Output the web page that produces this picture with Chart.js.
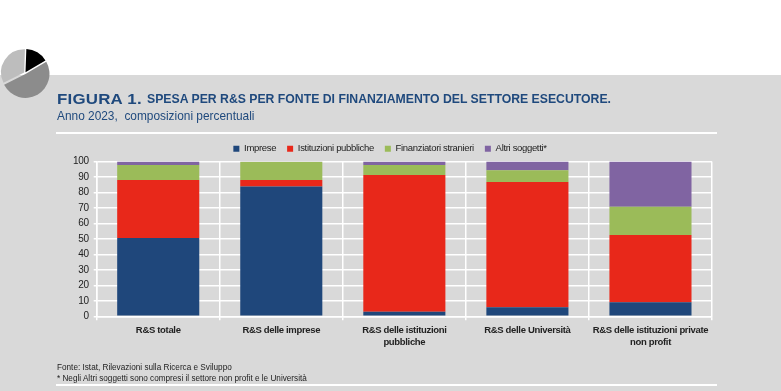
<!DOCTYPE html>
<html lang="it"><head><meta charset="utf-8">
<script src="https://cdn.jsdelivr.net/npm/chart.js@4"></script>
<style>
html,body{margin:0;padding:0;background:#fff}
#page{position:relative;width:781px;height:391px;overflow:hidden;font-family:"Liberation Sans",Arial,sans-serif}
#band{position:absolute;left:0;top:75px;width:781px;height:316px;background:#d9d9d9}
#c{position:absolute;left:0;top:0}
.t{position:absolute;white-space:nowrap;transform-origin:0 0}
.rule{position:absolute;left:56px;width:661px;height:2px;background:#fff}
</style></head><body>
<div id="page">
<div id="band"></div>
<div style="position:absolute;left:-8px;top:40px;width:66px;height:66px"><canvas id="pie" width="66" height="66"></canvas></div>
<div class="t" style="left:57px;top:90px;font-size:15px;font-weight:bold;color:#1f497d;transform:scaleX(1.125);letter-spacing:.2px">FIGURA 1.</div>
<div class="t" style="left:147px;top:91px;font-size:13.5px;font-weight:bold;color:#1f497d;transform:scaleX(.907)">SPESA PER R&amp;S PER FONTE DI FINANZIAMENTO DEL SETTORE ESECUTORE.</div>
<div class="t" style="left:57px;top:108px;font-size:13.5px;color:#1f497d;transform:scaleX(.88)">Anno 2023,&nbsp; composizioni percentuali</div>
<div class="rule" style="top:132px"></div>
<canvas id="c" width="781" height="391"></canvas>
<div class="t" style="left:57px;top:361px;font-size:9.5px;color:#222;transform:scaleX(.862)">Fonte: Istat, Rilevazioni sulla Ricerca e Sviluppo</div>
<div class="t" style="left:57px;top:372px;font-size:9.5px;color:#222;transform:scaleX(.86)">* Negli Altri soggetti sono compresi il settore non profit e le Università</div>
<div class="rule" style="top:384px"></div>
</div>
<script>
const categories = [["R&S totale"],["R&S delle imprese"],["R&S delle istituzioni","pubbliche"],["R&S delle Università"],["R&S delle istituzioni private","non profit"]];
const imprese = [50.6, 83.8, 3.0, 5.8, 9.1];
const istituzioni = [37.5, 4.3, 88.3, 81.0, 43.5];
const stranieri = [9.7, 11.7, 6.5, 7.6, 18.2];
const altri = [2.2, 0.2, 2.2, 5.6, 29.2];
const seriesNames = ["Imprese","Istituzioni pubbliche","Finanziatori stranieri","Altri soggetti*"];
const seriesColors = ["#1f477b","#e8281a","#9bbb59","#8064a2"];
const pieValues = [16, 51, 33];
const pieColors = ["#000000","#8c8c8c","#bdbdbd"];

Chart.defaults.font.family = '"Liberation Sans", Arial, sans-serif';
Chart.defaults.animation = false;

const tightText = {
  id:'tightText',
  beforeUpdate(chart){ chart.ctx.letterSpacing='-0.33px'; },
  beforeDraw(chart){ chart.ctx.letterSpacing='-0.33px'; },
  afterInit(chart){
    const lg = chart.legend; if(!lg) return;
    const fit = lg.fit.bind(lg);
    lg.fit = function(){ fit(); lg.height -= 2; };
  }
};

new Chart(document.getElementById('c'), {
  type:'bar',
  data:{labels:categories,datasets:[imprese,istituzioni,stranieri,altri].map((d,i)=>({
    label:seriesNames[i],data:d,backgroundColor:seriesColors[i],borderWidth:0,
    categoryPercentage:1,barPercentage:0.667}))},
  plugins:[tightText],
  options:{
    responsive:false,
    layout:{padding:{left:68,right:69,top:133,bottom:38}},
    plugins:{
      legend:{display:true,position:'top',align:'center',
        labels:{boxWidth:6,boxHeight:6,padding:11,color:'#222',font:{size:9.5}}},
      tooltip:{enabled:false},title:{display:false}
    },
    scales:{
      x:{stacked:true,
        grid:{color:'#fff',lineWidth:1.5,tickLength:4,drawOnChartArea:true},
        border:{color:'#fff',width:1.5},
        ticks:{color:'#222',font:{size:9.5,weight:'bold',lineHeight:1.3},maxRotation:0,autoSkip:false,padding:4}},
      y:{stacked:true,min:0,max:100,
        grid:{color:'#fff',lineWidth:1.5,tickLength:3},
        border:{color:'#fff',width:1.5},
        ticks:{stepSize:10,autoSkip:false,color:'#222',font:{size:10},padding:5}}
    }
  }
});

new Chart(document.getElementById('pie'), {
  type:'pie',
  data:{labels:["a","b","c"],datasets:[{data:pieValues,backgroundColor:pieColors,borderWidth:0,offset:[4,4,4]}]},
  options:{responsive:false,rotation:2,layout:{padding:8},plugins:{legend:{display:false},tooltip:{enabled:false}}}
});
</script>
</body></html>
